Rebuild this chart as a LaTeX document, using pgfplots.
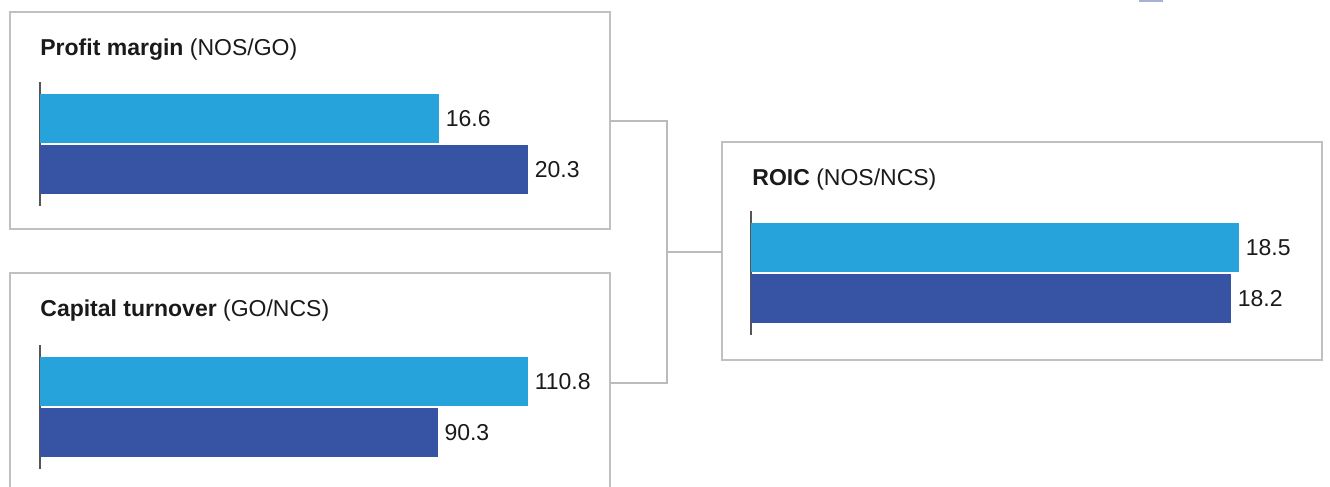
\documentclass[border=0pt]{standalone}
\usepackage{pgfplots}
\pgfplotsset{compat=1.18}
\usepackage{fontspec}
\setmainfont{Liberation Sans}

\definecolor{lightbar}{HTML}{27A3DC}
\definecolor{darkbar}{HTML}{3753A4}
\definecolor{framegray}{HTML}{C0C0C0}
\definecolor{linkgray}{HTML}{BBBBBB}
\definecolor{axisgray}{HTML}{555555}
\definecolor{txt}{HTML}{1A1A1A}

\pgfplotsset{
  panel/.style={
    anchor=north west, scale only axis,
    width=244pt, height=62pt,
    xmin=0, ymin=0.284, ymax=2.716, y dir=reverse,
    axis x line=none, axis y line=left,
    y axis line style={-, draw=axisgray, line width=0.8pt},
    ticks=none, xbar, bar width=24.5pt, bar shift=0pt,
    nodes near coords, point meta=explicit symbolic,
    every node near coord/.append style={font=\fontsize{11.5}{13}\selectfont,
      text=txt, anchor=west, inner sep=3.2pt},
    clip=false,
  },
}

\begin{document}
\begin{tikzpicture}[x=0.5pt, y=-0.5pt, font=\fontsize{11.5}{13}\selectfont]
\clip (0,0) rectangle (1330,487);

% frames and links
\draw[framegray, line width=1pt] (10,12) rectangle (610,229);
\draw[framegray, line width=1pt] (10,495) -- (10,273) -- (610,273) -- (610,495);
\draw[framegray, line width=1pt] (722,142) rectangle (1322,360);
\draw[linkgray, line width=1pt] (610,121) -- (667,121) -- (667,383) -- (610,383);
\draw[linkgray, line width=1pt] (667,252) -- (722,252);
\fill[darkbar!45] (1139,-3) rectangle (1163,1.5);

% titles
\node[anchor=base west, inner sep=0, text=txt] at (40,55) {\textbf{Profit margin} (NOS/GO)};
\node[anchor=base west, inner sep=0, text=txt] at (40,316) {\textbf{Capital turnover} (GO/NCS)};
\node[anchor=base west, inner sep=0, text=txt] at (752,185) {\textbf{ROIC} (NOS/NCS)};

\coordinate (p1) at (40,82);
\coordinate (p2) at (40,345);
\coordinate (p3) at (751,211);

\begin{axis}[panel, at={(p1)}, xmax=20.3]
\addplot[draw=none, fill=lightbar] coordinates {(16.6,1) [16.6]};
\addplot[draw=none, fill=darkbar] coordinates {(20.3,2) [20.3]};
\end{axis}

\begin{axis}[panel, at={(p2)}, xmax=110.8]
\addplot[draw=none, fill=lightbar] coordinates {(110.8,1) [110.8]};
\addplot[draw=none, fill=darkbar] coordinates {(90.3,2) [90.3]};
\end{axis}

\begin{axis}[panel, at={(p3)}, xmax=18.5]
\addplot[draw=none, fill=lightbar] coordinates {(18.5,1) [18.5]};
\addplot[draw=none, fill=darkbar] coordinates {(18.2,2) [18.2]};
\end{axis}
\end{tikzpicture}
\end{document}
